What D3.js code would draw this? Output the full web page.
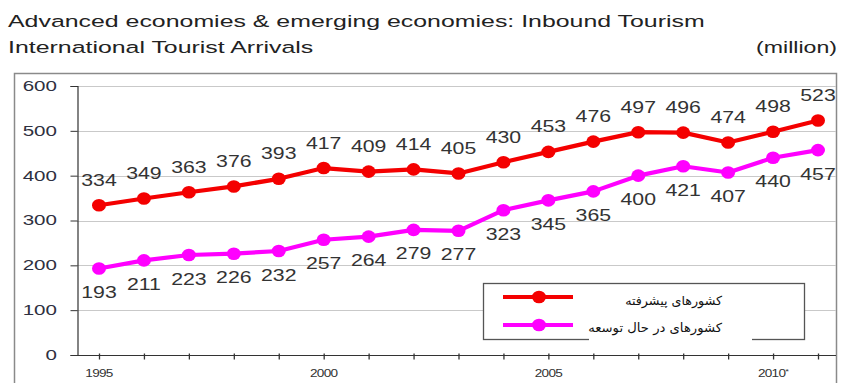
<!DOCTYPE html>
<html>
<head>
<meta charset="utf-8">
<script src="https://cdn.jsdelivr.net/npm/d3@7"></script>
<style>
  html, body { margin: 0; padding: 0; background: #fff; }
  svg { display: block; }
</style>
</head>
<body>
<script>
// Inbound tourism, international tourist arrivals (million)
const years = [1995, 1996, 1997, 1998, 1999, 2000, 2001, 2002, 2003, 2004, 2005, 2006, 2007, 2008, 2009, 2010, 2011];
const advanced = [334, 349, 363, 376, 393, 417, 409, 414, 405, 430, 453, 476, 497, 496, 474, 498, 523];
const emerging = [193, 211, 223, 226, 232, 257, 264, 279, 277, 323, 345, 365, 400, 421, 407, 440, 457];
const yTicks = [0, 100, 200, 300, 400, 500, 600];
const xLabelYears = [1995, 2000, 2005, 2010];
const xLabelTexts = ["1995", "2000", "2005", "2010"];
const seriesNames = ["کشورهای پیشرفته", "کشورهای در حال توسعه"];
const titleLines = ["Advanced economies & emerging economies: Inbound Tourism", "International Tourist Arrivals"];
const unitText = "(million)";

const W = 843, H = 383;
const sansFont = "'Liberation Sans', Arial, sans-serif";
const arabicFont = "'DejaVu Sans', 'Noto Sans', sans-serif";
const redColor = "#f40000", pinkColor = "#ff00ff";

const svg = d3.select("body").append("svg").attr("width", W).attr("height", H);

const x = d3.scaleLinear().domain([1995, 2011]).range([99, 818]);
const y = d3.scaleLinear().domain([0, 600]).range([355, 86]);
const plotRight = 836;

// text with a horizontal stretch, anchored at (px, py)
function wideText(g, str, px, py, opts) {
  const t = g.append("text")
    .attr("transform", `translate(${px},${py}) scale(${opts.sx || 1},1)`)
    .attr("text-anchor", opts.anchor || "middle")
    .attr("dominant-baseline", opts.baseline || "alphabetic")
    .style("font-family", opts.family || sansFont)
    .style("font-size", opts.size + "px")
    .style("fill", opts.fill || "#333")
    .text(str);
  return t;
}
// stretch factor that brings a text to a given width
function fitScale(t, width) {
  return width / t.node().getComputedTextLength();
}

// titles: the first line spans the chart width, the rest share its stretch
const titleG = svg.append("g");
const t1 = wideText(titleG, titleLines[0], 8, 27, { size: 16.5, anchor: "start", fill: "#222" });
const titleSx = fitScale(t1, 697);
t1.attr("transform", `translate(8,27) scale(${titleSx},1)`);
wideText(titleG, titleLines[1], 8, 53, { size: 16.5, sx: titleSx, anchor: "start", fill: "#222" });
wideText(titleG, unitText, 837, 53, { size: 16.5, sx: titleSx * 0.93, anchor: "end", fill: "#222" });

// outer frame
svg.append("rect")
  .attr("x", 14.5).attr("y", 73.5)
  .attr("width", 822).attr("height", 330)
  .attr("fill", "none").attr("stroke", "#8a8a8a").attr("stroke-width", 1.5);

// horizontal grid
svg.append("g").selectAll("line").data(yTicks.filter(v => v > 0)).join("line")
  .attr("x1", 77).attr("x2", plotRight)
  .attr("y1", d => Math.round(y(d)) + 0.5).attr("y2", d => Math.round(y(d)) + 0.5)
  .attr("stroke", "#c9c9c9").attr("stroke-width", 1.2);

// y axis
const yAxisG = svg.append("g").attr("transform", "translate(77.5,0)")
  .call(d3.axisLeft(y).tickValues(yTicks).tickSize(7).tickFormat(""));
yAxisG.select(".domain").attr("stroke", "#333").attr("stroke-width", 1.2);
yAxisG.selectAll(".tick line").attr("stroke", "#333");
yTicks.forEach(v => {
  wideText(svg, String(v), 57, y(v), { size: 14.5, sx: 1.42, anchor: "end", baseline: "central", fill: "#2e3040" });
});

// x axis with a tick every year
const xAxisG = svg.append("g").attr("transform", "translate(0,355.5)")
  .call(d3.axisBottom(x).tickValues(years).tickSize(4).tickSizeOuter(0).tickFormat(""));
xAxisG.select(".domain").attr("d", `M77,0H${plotRight}`).attr("stroke", "#333").attr("stroke-width", 1.2);
xAxisG.selectAll(".tick line").attr("y1", -2).attr("stroke", "#333").attr("stroke-width", 1.3);
xLabelYears.forEach((yr, i) => {
  const t = wideText(svg, xLabelTexts[i], x(yr), 377, { size: 11.5, sx: 1.18, fill: "#333" });
  t.style("letter-spacing", "-0.6px");
  if (yr === 2010) {
    t.append("tspan").attr("dy", -3).style("font-size", "8px").text("*");
  }
});

// series lines, markers and value labels
const series = [
  { values: advanced, color: redColor, labelDy: -25 },
  { values: emerging, color: pinkColor, labelDy: 24 }
];
const line = d3.line().x((d, i) => x(years[i])).y(d => y(d));

series.forEach(s => {
  svg.append("path").datum(s.values)
    .attr("d", line)
    .attr("fill", "none").attr("stroke", s.color)
    .attr("stroke-width", 4.2).attr("stroke-linejoin", "round");
  svg.append("g").selectAll("ellipse").data(s.values).join("ellipse")
    .attr("cx", (d, i) => x(years[i])).attr("cy", d => y(d))
    .attr("rx", 7).attr("ry", 6.3)
    .attr("fill", s.color);
  const lg = svg.append("g");
  s.values.forEach((v, i) => {
    wideText(lg, String(v), x(years[i]), y(v) + s.labelDy, { size: 16, sx: 1.33, baseline: "central", fill: "#333" });
  });
});

// legend
const legend = svg.append("g");
legend.append("rect")
  .attr("x", 483.5).attr("y", 283.5).attr("width", 321).attr("height", 56)
  .attr("fill", "#fff").attr("stroke", "#555").attr("stroke-width", 1.3);
// white band behind the second entry's label
legend.append("rect")
  .attr("x", 589).attr("y", 316).attr("width", 163).attr("height", 26)
  .attr("fill", "#fff");
const legendRows = [
  { name: seriesNames[0], color: redColor, ly: 297, ty: 301, width: 97 },
  { name: seriesNames[1], color: pinkColor, ly: 325, ty: 328, width: 134 }
];
legendRows.forEach(r => {
  legend.append("line")
    .attr("x1", 503).attr("x2", 573).attr("y1", r.ly).attr("y2", r.ly)
    .attr("stroke", r.color).attr("stroke-width", 4.2);
  legend.append("ellipse")
    .attr("cx", 539).attr("cy", r.ly).attr("rx", 7).attr("ry", 6.3)
    .attr("fill", r.color);
  const t = wideText(legend, r.name, 722, r.ty, { size: 12.5, anchor: "end", baseline: "central", family: arabicFont, fill: "#111" });
  t.attr("transform", `translate(722,${r.ty}) scale(${fitScale(t, r.width)},1)`);
});
</script>
</body>
</html>
